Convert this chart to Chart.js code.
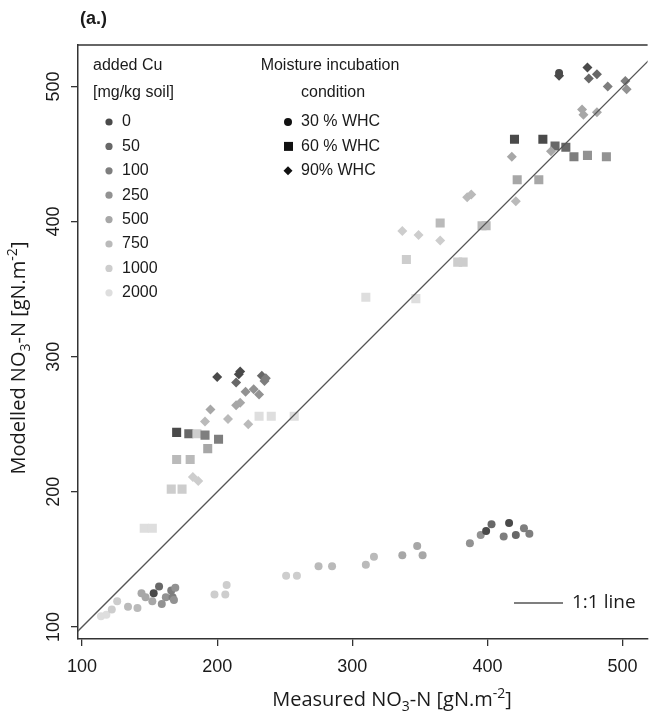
<!DOCTYPE html>
<html>
<head>
<meta charset="utf-8">
<script src="https://cdn.jsdelivr.net/npm/chart.js@4.4.1/dist/chart.umd.min.js"></script>
<style>
  html, body { margin: 0; padding: 0; background: #fff; }
  #wrap { width: 654px; height: 718px; }
</style>
</head>
<body>
<div id="wrap"><canvas id="chart" width="654" height="718"></canvas></div>
<script>
// added Cu levels [mg/kg soil] and the grey used for each
const cuLevels = ['0', '50', '100', '250', '500', '750', '1000', '2000'];
const cuGreys = ['#4a4a4a', '#686868', '#7e7e7e', '#929292', '#a7a7a7', '#bababa', '#cdcdcd', '#dedede'];

const moistureLabels = ['30 % WHC', '60 % WHC', '90% WHC'];

// 30 % WHC -> circles
const measured30 = [114, 118, 122, 126, 134, 141, 144, 147, 152, 153, 157, 159, 162, 166, 167, 169, 168,
  198, 206, 207, 251, 259, 275, 285, 310, 316, 337, 348, 352, 387, 395, 399, 403, 412, 416, 421, 427, 431, 453];
const modelled30 = [108, 109, 113, 119, 115, 114, 125, 122, 119, 125, 130, 117, 122, 127, 122, 129, 120,
  124, 124, 131, 138, 138, 145, 145, 146, 152, 153, 160, 153, 162, 168, 171, 176, 167, 177, 168, 173, 169, 510];
const cu30 = [7, 7, 6, 6, 5, 5, 4, 4, 4, 0, 1, 3, 3, 2, 2, 3, 3,
  6, 6, 6, 6, 6, 5, 5, 5, 5, 4, 4, 4, 3, 3, 0, 1, 2, 0, 1, 2, 2, 0];

// 60 % WHC -> squares
const measured60 = [146, 152, 166, 174, 170, 180, 193, 170, 179, 185, 191, 201, 231, 240, 257,
  310, 347, 340, 378, 382, 365, 396, 399, 422, 438, 420, 441, 450, 458, 464, 474, 488];
const modelled60 = [173, 173, 202, 202, 224, 224, 232, 244, 243, 243, 242, 239, 256, 256, 256,
  344, 343, 372, 370, 370, 399, 397, 397, 431, 431, 461, 461, 456, 455, 448, 449, 448];
const cu60 = [7, 7, 6, 6, 5, 5, 4, 0, 1, 6, 2, 2, 7, 7, 7,
  7, 7, 6, 6, 6, 5, 5, 5, 4, 4, 0, 0, 1, 1, 2, 3, 3];

// 90% WHC -> diamonds
const measured90 = [182, 186, 191, 208, 223, 195, 214, 217, 221, 227, 231, 214, 233, 235, 236, 200, 216, 217,
  337, 349, 365, 385, 388, 421, 418, 447, 470, 471, 481, 489, 502, 503, 475, 481, 474, 453];
const modelled90 = [211, 208, 252, 254, 250, 261, 264, 266, 274, 276, 272, 281, 286, 282, 284, 285, 287, 289,
  393, 390, 386, 418, 420, 415, 448, 452, 483, 479, 481, 500, 504, 498, 506, 509, 514, 508];
const cu90 = [6, 6, 5, 5, 5, 4, 4, 4, 3, 3, 3, 1, 1, 2, 2, 0, 0, 0,
  6, 6, 6, 5, 5, 5, 4, 4, 4, 4, 4, 2, 2, 3, 1, 1, 0, 0];

const xTicks = [100, 200, 300, 400, 500];
const yTicks = [100, 200, 300, 400, 500];
const oneToOne = [80, 540];

function pts(xs, ys) {
  return xs.map((x, i) => ({ x: x, y: ys[i] }));
}

const tickFont = '18px "Liberation Sans", Arial, sans-serif';
const legendFont = '16px "Liberation Sans", Arial, sans-serif';
const titleFont = '19px "Open Sans", sans-serif';

// text with sub/superscript pieces: [text, shift] where shift -1 = sub, 1 = sup
function richText(ctx, parts, x, y, size) {
  const small = Math.round(size * 0.68);
  let w = 0;
  for (const p of parts) {
    ctx.font = (p[1] ? small : size) + 'px "Open Sans", sans-serif';
    w += ctx.measureText(p[0]).width;
  }
  let cx = x - w / 2;
  ctx.textAlign = 'left';
  ctx.textBaseline = 'alphabetic';
  for (const p of parts) {
    ctx.font = (p[1] ? small : size) + 'px "Open Sans", sans-serif';
    const dy = p[1] === -1 ? size * 0.25 : (p[1] === 1 ? -size * 0.42 : 0);
    ctx.fillText(p[0], cx, y + dy);
    cx += ctx.measureText(p[0]).width;
  }
}

const decor = {
  id: 'decor',
  afterDraw(chart) {
    const ctx = chart.ctx;
    const a = chart.chartArea;
    const ys = chart.scales.y;
    ctx.save();
    ctx.fillStyle = '#1a1a1a';
    ctx.strokeStyle = '#333';

    // top frame line
    ctx.lineWidth = 1.5;
    ctx.beginPath();
    ctx.moveTo(a.left, a.top);
    ctx.lineTo(a.right, a.top);
    ctx.stroke();

    // panel tag
    ctx.font = 'bold 18px "Liberation Sans", Arial, sans-serif';
    ctx.textAlign = 'left';
    ctx.textBaseline = 'middle';
    ctx.fillText('(a.)', 80, 19);

    // rotated y tick labels
    ctx.font = tickFont;
    ctx.textAlign = 'center';
    ctx.textBaseline = 'middle';
    for (const t of ys.ticks) {
      ctx.save();
      ctx.translate(54, ys.getPixelForValue(t.value));
      ctx.rotate(-Math.PI / 2);
      ctx.fillText(String(t.value), 0, 0);
      ctx.restore();
    }

    // axis titles
    richText(ctx, [['Measured NO', 0], ['3', -1], ['-N [gN.m', 0], ['-2', 1], [']', 0]], 392, 706, 20);
    ctx.save();
    ctx.translate(25, 358);
    ctx.rotate(-Math.PI / 2);
    richText(ctx, [['Modelled NO', 0], ['3', -1], ['-N [gN.m', 0], ['-2', 1], [']', 0]], 0, 0, 20);
    ctx.restore();

    // Cu legend
    ctx.font = legendFont;
    ctx.textBaseline = 'middle';
    ctx.textAlign = 'left';
    ctx.fillText('added Cu', 93, 66);
    ctx.fillText('[mg/kg soil]', 93, 93);
    cuLevels.forEach((lv, i) => {
      const y = 122 + i * 24.4;
      ctx.fillStyle = cuGreys[i];
      ctx.beginPath();
      ctx.arc(109, y, 3.6, 0, Math.PI * 2);
      ctx.fill();
      ctx.fillStyle = '#1a1a1a';
      ctx.fillText(lv, 122, y);
    });

    // moisture legend
    ctx.textAlign = 'center';
    ctx.fillText('Moisture incubation', 330, 66);
    ctx.fillText('condition', 333, 93);
    ctx.textAlign = 'left';
    moistureLabels.forEach((lb, i) => {
      const y = 122 + i * 24.4;
      ctx.fillStyle = '#111';
      ctx.beginPath();
      if (i === 0) {
        ctx.arc(288, y, 4, 0, Math.PI * 2);
      } else if (i === 1) {
        ctx.rect(284, y - 4.5, 9, 9);
      } else {
        ctx.moveTo(288, y - 4.5); ctx.lineTo(292.5, y); ctx.lineTo(288, y + 4.5); ctx.lineTo(283.5, y);
        ctx.closePath();
      }
      ctx.fill();
      ctx.fillStyle = '#1a1a1a';
      ctx.fillText(lb, 301, y);
    });

    // 1:1 line legend
    ctx.strokeStyle = '#555';
    ctx.lineWidth = 1.3;
    ctx.beginPath();
    ctx.moveTo(514, 603);
    ctx.lineTo(563, 603);
    ctx.stroke();
    ctx.font = titleFont;
    ctx.textAlign = 'left';
    ctx.textBaseline = 'middle';
    ctx.fillText('1:1 line', 572, 603);

    ctx.restore();
  }
};

new Chart(document.getElementById('chart'), {
  type: 'scatter',
  data: {
    datasets: [
      {
        label: moistureLabels[0],
        data: pts(measured30, modelled30),
        pointStyle: 'circle',
        pointRadius: 4,
        pointBorderWidth: 0,
        pointBackgroundColor: cu30.map(i => cuGreys[i]),
        order: 3
      },
      {
        label: moistureLabels[1],
        data: pts(measured60, modelled60),
        pointStyle: 'rect',
        pointRadius: 6.4,
        pointBorderWidth: 0,
        pointBackgroundColor: cu60.map(i => cuGreys[i]),
        order: 2
      },
      {
        label: moistureLabels[2],
        data: pts(measured90, modelled90),
        pointStyle: 'rectRot',
        pointRadius: 5,
        pointBorderWidth: 0,
        pointBackgroundColor: cu90.map(i => cuGreys[i]),
        order: 1
      },
      {
        type: 'line',
        label: '1:1 line',
        data: pts(oneToOne, oneToOne),
        borderColor: '#555',
        borderWidth: 1.3,
        pointRadius: 0,
        fill: false,
        order: 0
      }
    ]
  },
  options: {
    responsive: false,
    animation: false,
    devicePixelRatio: 1,
    layout: { padding: { top: 45, right: 0, left: 0, bottom: 0 } },
    plugins: { legend: { display: false }, tooltip: { enabled: false } },
    scales: {
      x: {
        type: 'linear',
        min: 97,
        max: 518.5,
        afterBuildTicks: s => { s.ticks = xTicks.map(v => ({ value: v })); },
        afterFit: s => { s.height = 79; },
        ticks: { font: { family: '"Liberation Sans", Arial, sans-serif', size: 18 }, color: '#1a1a1a', padding: 10, maxRotation: 0 },
        grid: { drawOnChartArea: false, drawTicks: true, tickLength: 7, color: '#333', lineWidth: 1.3 },
        border: { display: true, color: '#333', width: 1.5 }
      },
      y: {
        type: 'linear',
        min: 91.1,
        max: 530.7,
        afterBuildTicks: s => { s.ticks = yTicks.map(v => ({ value: v })); },
        afterFit: s => { s.width = 78; },
        ticks: { display: false },
        grid: { drawOnChartArea: false, drawTicks: true, tickLength: 7, color: '#333', lineWidth: 1.3 },
        border: { display: true, color: '#333', width: 1.5 }
      }
    }
  },
  plugins: [decor]
});
</script>
</body>
</html>
